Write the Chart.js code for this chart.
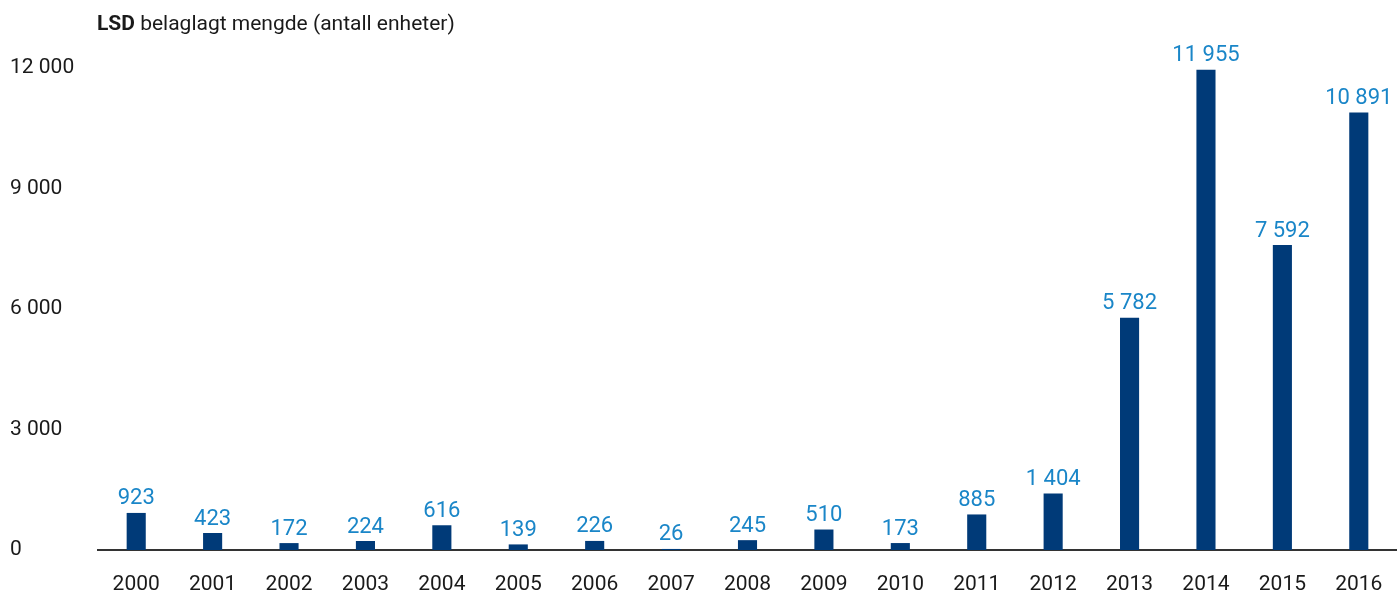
<!DOCTYPE html>
<html>
<head>
<meta charset="utf-8">
<script src="https://cdn.jsdelivr.net/npm/chart.js@4"></script>
<style>
  body { margin: 0; background: #fff; }
  #wrap { position: relative; width: 1397px; height: 596px; }
  #tittel { position: absolute; left: 97px; top: 11px; font: 21px Roboto, sans-serif; color: #1a1a1a; }
  #tittel b { font-weight: 700; }
</style>
</head>
<body>
<div id="wrap">
  <canvas id="graf" width="1397" height="596"></canvas>
  <div id="tittel"><b>LSD</b> belaglagt mengde (antall enheter)</div>
</div>
<script>
const aar = ['2000', '2001', '2002', '2003', '2004', '2005', '2006', '2007', '2008',
  '2009', '2010', '2011', '2012', '2013', '2014', '2015', '2016'];
const mengde = [923, 423, 172, 224, 616, 139, 226, 26, 245, 510, 173, 885, 1404, 5782, 11955, 7592, 10891];
const yTicks = [0, 3000, 6000, 9000, 12000];

function formaterTall(v) {
  return String(v).replace(/\B(?=(\d{3})+(?!\d))/g, ' ');
}

const verdiEtiketter = {
  id: 'verdiEtiketter',
  afterDatasetsDraw(chart) {
    const ctx = chart.ctx;
    const meta = chart.getDatasetMeta(0);
    ctx.save();
    ctx.font = '22px Roboto, sans-serif';
    ctx.fillStyle = '#1a86c8';
    ctx.textAlign = 'center';
    ctx.textBaseline = 'bottom';
    meta.data.forEach((bar, i) => {
      ctx.fillText(formaterTall(mengde[i]), bar.x, bar.y - 3);
    });
    ctx.restore();
  }
};

new Chart(document.getElementById('graf'), {
  type: 'bar',
  data: {
    labels: aar,
    datasets: [{
      data: mengde,
      backgroundColor: '#003a78',
      barPercentage: 0.5,
      categoryPercentage: 0.5
    }]
  },
  options: {
    responsive: false,
    animation: false,
    layout: { padding: { top: 68, right: 0, left: 10 } },
    plugins: { legend: { display: false }, tooltip: { enabled: false } },
    scales: {
      x: {
        grid: { display: false, drawTicks: false },
        border: { color: '#333', width: 2 },
        ticks: { color: '#1a1a1a', font: { family: 'Roboto', size: 21 }, padding: 22 },
        afterFit(axis) {
          axis.height = 46;
          axis.paddingLeft = 0;
          axis.paddingRight = 0;
        }
      },
      y: {
        min: 0,
        max: 12000,
        afterBuildTicks(axis) { axis.ticks = yTicks.map(v => ({ value: v })); },
        grid: { display: false, drawTicks: false },
        border: { display: false },
        ticks: {
          color: '#1a1a1a',
          font: { family: 'Roboto', size: 21 },
          crossAlign: 'far',
          padding: 0,
          callback: v => formaterTall(v)
        },
        afterFit(axis) {
          axis.width = 88;
          axis.paddingTop = 0;
          axis.paddingBottom = 0;
        }
      }
    }
  },
  plugins: [verdiEtiketter]
});
</script>
</body>
</html>
